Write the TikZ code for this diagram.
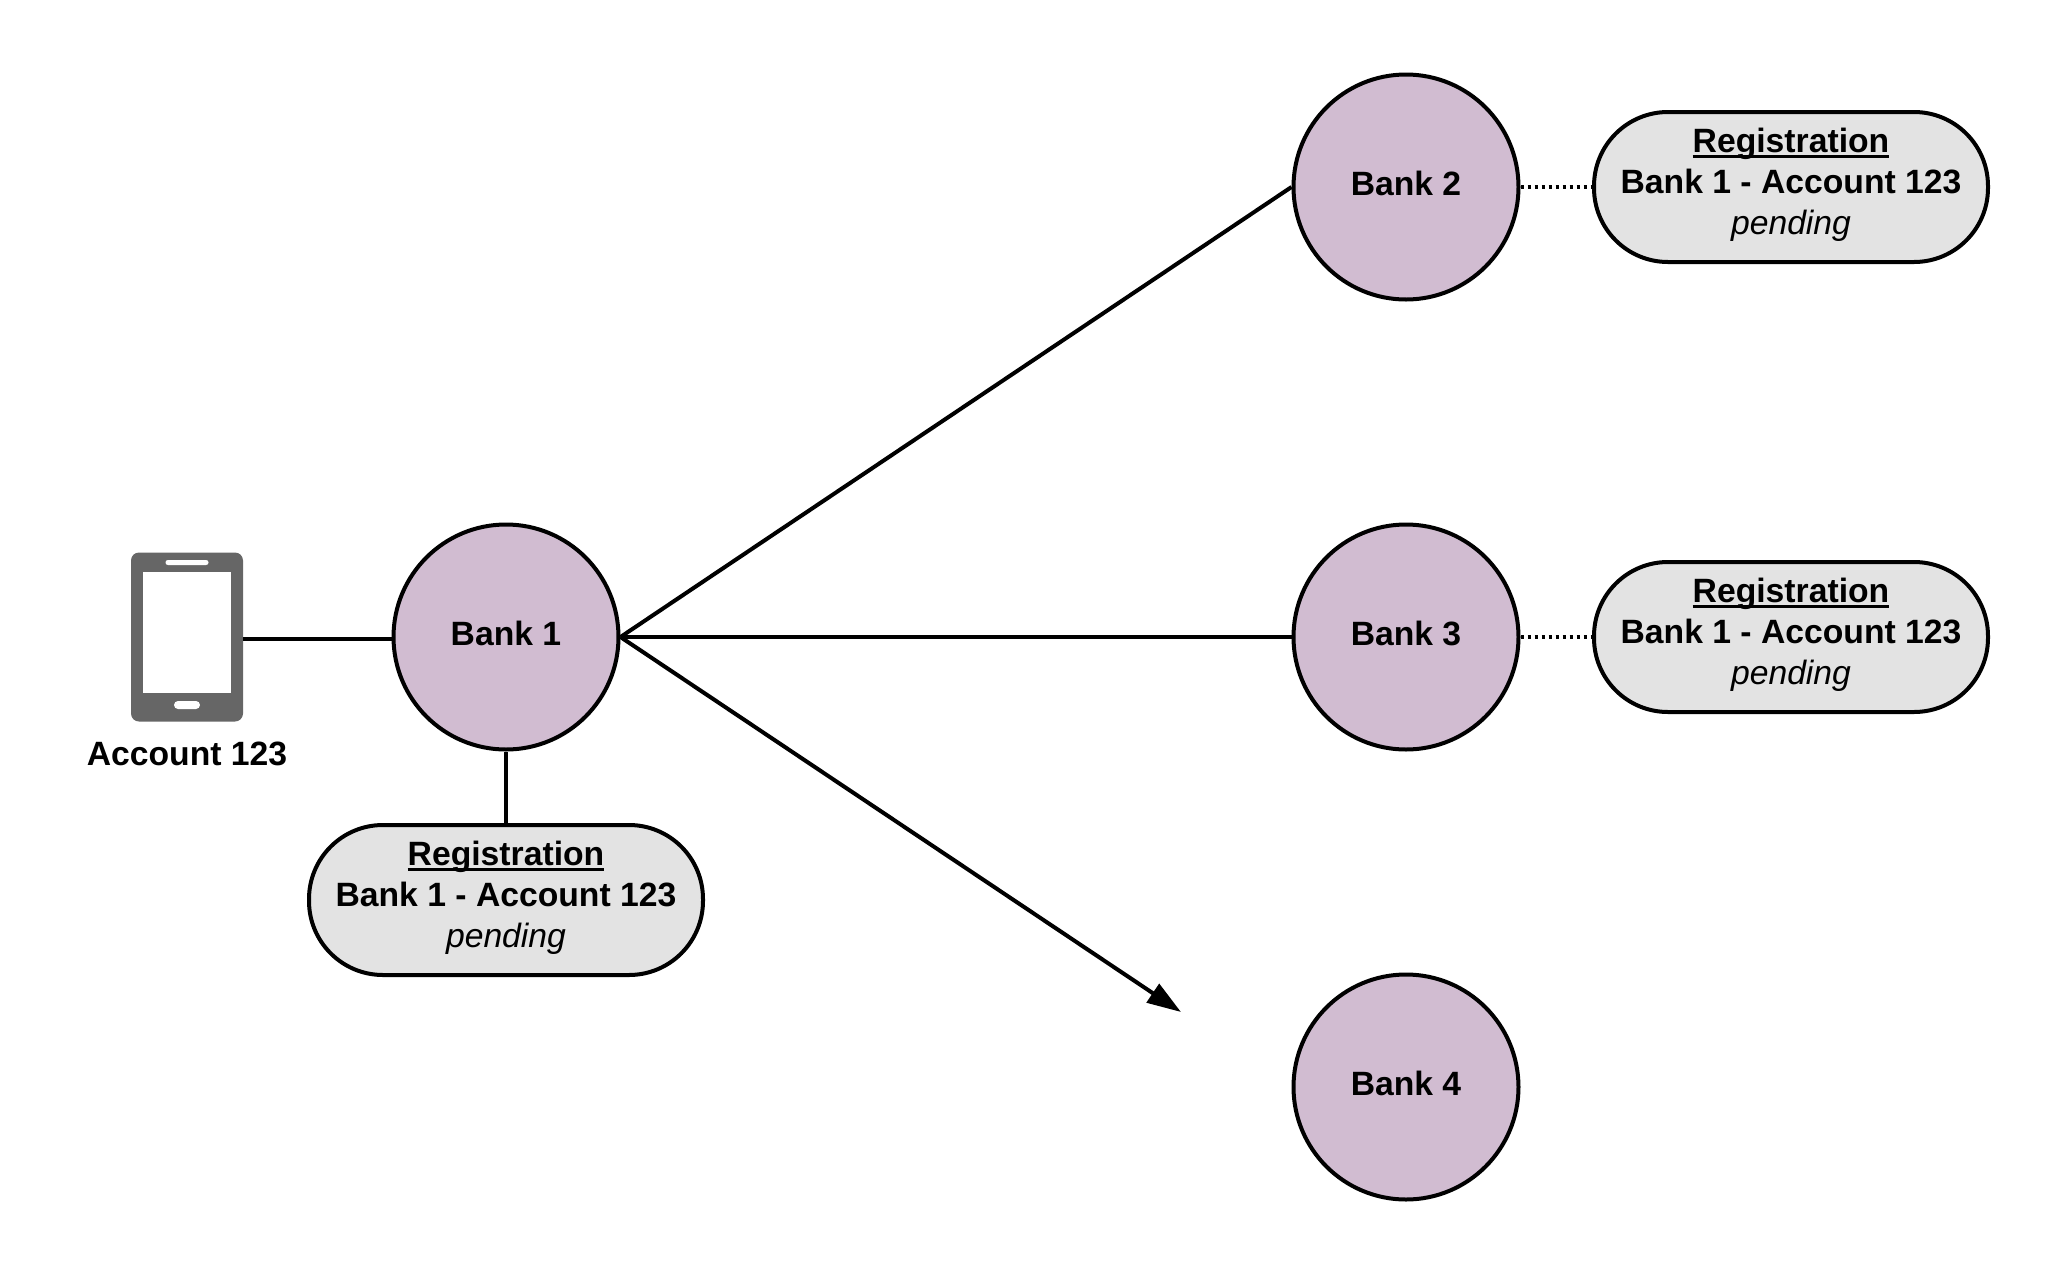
\documentclass[tikz,border=0pt]{standalone}
\usepackage{fontspec}
\setmainfont{Liberation Sans}
\usetikzlibrary{arrows.meta}
\definecolor{bankfill}{HTML}{D1BCD1}
\definecolor{regfill}{HTML}{E3E3E3}
\definecolor{phonegray}{HTML}{666666}
\tikzset{
  bank/.style={circle, draw, line width=2pt, fill=bankfill, minimum size=112.5pt, inner sep=0pt, font=\fontsize{16.85}{20.4}\selectfont\bfseries, text depth=4pt},
  reg/.style={rectangle, rounded corners=37pt, draw, line width=2pt, fill=regfill, minimum width=197pt, minimum height=75pt, inner sep=0pt, align=center, font=\fontsize{16.85}{20.4}\selectfont, text depth=5.6pt},
  link/.style={line width=2pt},
  dots/.style={line width=1.7pt, dash pattern=on 1.6pt off 1.9pt},
  phonepart/.style={rectangle, inner sep=0pt, fill=white}
}
\newcommand{\regline}[1]{\setbox0\hbox{#1}\rlap{\rule[-2.7pt]{\wd0}{1.5pt}}\box0}
\newcommand{\regtext}{\regline{\textbf{Registration}}\\\textbf{Bank 1 - Account 123}\\\textit{pending}}
\begin{document}
\begin{tikzpicture}[x=0.5pt, y=-0.5pt]
\useasboundingbox (0,0) rectangle (2063,1275);
\node[rectangle, rounded corners=4pt, fill=phonegray, minimum width=56pt, minimum height=84.5pt, inner sep=0pt] (phone) at (187,637){};
\node[phonepart, minimum width=44pt, minimum height=60.5pt] (screen) at (187,632.5){};
\node[phonepart, rounded corners=1.2pt, minimum width=21.5pt, minimum height=2.5pt] (speaker) at (187,562.5){};
\node[phonepart, rounded corners=2pt, minimum width=13pt, minimum height=4pt] (button) at (187,705){};
\node[font=\fontsize{16.85}{20.4}\selectfont\bfseries, inner sep=0pt] (account) at (187,754){Account 123};
\node[bank] (bank1) at (506,637){Bank 1};
\node[bank] (bank2) at (1406,187){Bank 2};
\node[bank] (bank3) at (1406,637){Bank 3};
\node[bank] (bank4) at (1406,1087){Bank 4};
\node[reg] (reg1) at (506,900){\regtext};
\node[reg] (reg2) at (1791,187){\regtext};
\node[reg] (reg3) at (1791,637){\regtext};
\coordinate (tip4) at (1181,1012);
\coordinate (phoneline) at (300,639);
\draw[link](phone.east |- phoneline) -- (bank1.west |- phoneline);
\draw[link](bank1) -- (reg1);
\draw[link](bank1.east) -- (bank2.west);
\draw[link](bank1.east) -- (bank3.west);
\draw[link, -{Triangle[length=17pt, width=11pt]}](bank1.east) -- (tip4);
\draw[dots](bank2) -- (reg2);
\draw[dots](bank3) -- (reg3);
\end{tikzpicture}
\end{document}
